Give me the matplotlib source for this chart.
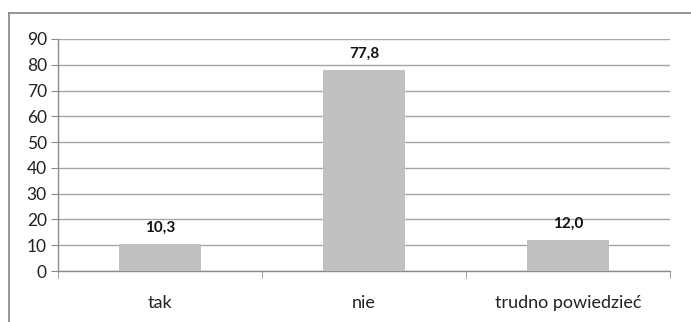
import matplotlib
matplotlib.use("Agg")
import matplotlib.pyplot as plt
from matplotlib.lines import Line2D
import numpy as np

categories = ["tak", "nie", "trudno powiedzieć"]
values = [10.3, 77.8, 12.0]
y_ticks = [0, 10, 20, 30, 40, 50, 60, 70, 80, 90]

plt.rcParams['font.family'] = ['Lato', 'DejaVu Sans']

fig = plt.figure(figsize=(6.91, 3.22), dpi=100)
fig.patch.set_facecolor("white")

# outer chart frame (runs off the right and bottom edges)
frame_color = "#8c8c8c"
fig.add_artist(Line2D([9/691, 9/691], [1 - 13/322, -0.1], transform=fig.transFigure,
                      color=frame_color, lw=1.3))
fig.add_artist(Line2D([9/691, 1.1], [1 - 13/322, 1 - 13/322], transform=fig.transFigure,
                      color=frame_color, lw=1.3))

ax = fig.add_axes([58/691, 1 - 271/322, (670 - 58)/691, (271 - 39)/322])
x = np.arange(len(categories))
bars = ax.bar(x, values, width=0.4, color="#c0c0c0", zorder=3)

ax.set_xlim(-0.5, len(categories) - 0.5)
ax.set_ylim(0, 90)
ax.set_yticks(y_ticks)
ax.set_yticklabels([str(v) for v in y_ticks], fontsize=12.5, color="#222222")
ax.yaxis.grid(True, color="#a6a6a6", lw=1, zorder=0)
ax.set_axisbelow(True)

ax.set_xticks(x)
ax.set_xticklabels(categories, fontsize=13, color="#222222")
ax.tick_params(axis="x", which="major", length=0, pad=17)
ax.set_xticks(np.arange(-0.5, len(categories), 1.0), minor=True)
ax.tick_params(axis="x", which="minor", length=5, color="#8c8c8c", direction="out")
ax.tick_params(axis="y", length=5, color="#8c8c8c", direction="out", pad=3)

for s in ["top", "right"]:
    ax.spines[s].set_visible(False)
for s in ["left", "bottom"]:
    ax.spines[s].set_color("#8c8c8c")
    ax.spines[s].set_linewidth(1)

for xi, v in zip(x, values):
    ax.annotate(f"{v:.1f}".replace(".", ","), (xi, v), xytext=(0, 7),
                textcoords="offset points", ha="center", va="bottom",
                fontsize=11, fontweight="bold", color="#111111")

fig.savefig("out.png", dpi=100, facecolor="white")
